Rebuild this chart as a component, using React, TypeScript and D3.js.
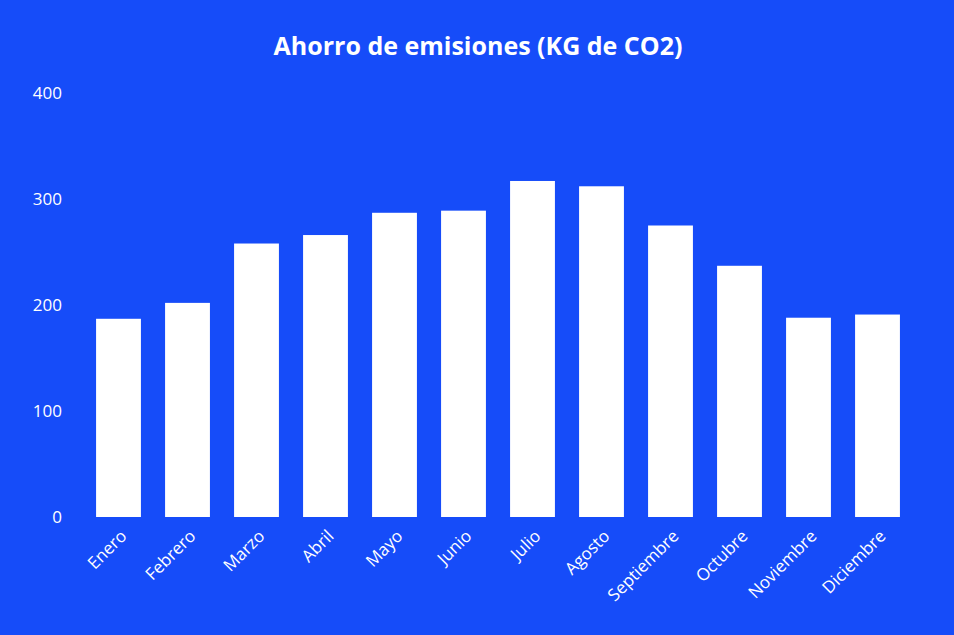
import * as d3 from "d3";

const months = [
  "Enero",
  "Febrero",
  "Marzo",
  "Abril",
  "Mayo",
  "Junio",
  "Julio",
  "Agosto",
  "Septiembre",
  "Octubre",
  "Noviembre",
  "Diciembre",
];
const savings = [187, 202, 258, 266, 287, 289, 317, 312, 275, 237, 188, 191];
const yTicks = [0, 100, 200, 300, 400];

const width = 954;
const height = 635;
const margin = { top: 93, right: 42, bottom: 118, left: 84 };
const bg = "#164cf9";
const font = "'Open Sans', Lato, sans-serif";

export default function App() {
  const x = d3
    .scaleBand<string>()
    .domain(months)
    .range([margin.left, width - margin.right])
    .paddingInner(0.35)
    .paddingOuter(0.175);

  const y = d3
    .scaleLinear()
    .domain([0, 400])
    .range([height - margin.bottom, margin.top]);

  return (
    <svg
      width={width}
      height={height}
      style={{ position: "absolute", left: 0, top: 0, background: bg }}
      fontFamily={font}
    >
      <rect width={width} height={height} fill={bg} />
      <text
        x={width / 2 + 1}
        y={55}
        textAnchor="middle"
        fill="#fff"
        fontSize={25}
        fontWeight={700}
      >
        Ahorro de emisiones (KG de CO2)
      </text>

      {yTicks.map((t) => (
        <text
          key={t}
          x={62}
          y={y(t)}
          dy="0.35em"
          textAnchor="end"
          fill="#fff"
          fontSize={17}
        >
          {t}
        </text>
      ))}

      {months.map((m, i) => (
        <rect
          key={m}
          x={x(m)}
          y={y(savings[i])}
          width={x.bandwidth()}
          height={y(0) - y(savings[i])}
          fill="#fff"
        />
      ))}

      {months.map((m) => {
        const cx = (x(m) ?? 0) + x.bandwidth() / 2 + 5;
        const cy = y(0) + 16;
        return (
          <text
            key={m}
            transform={`translate(${cx},${cy}) rotate(-45)`}
            textAnchor="end"
            dy="0.35em"
            fill="#fff"
            fontSize={17}
          >
            {m}
          </text>
        );
      })}
    </svg>
  );
}
